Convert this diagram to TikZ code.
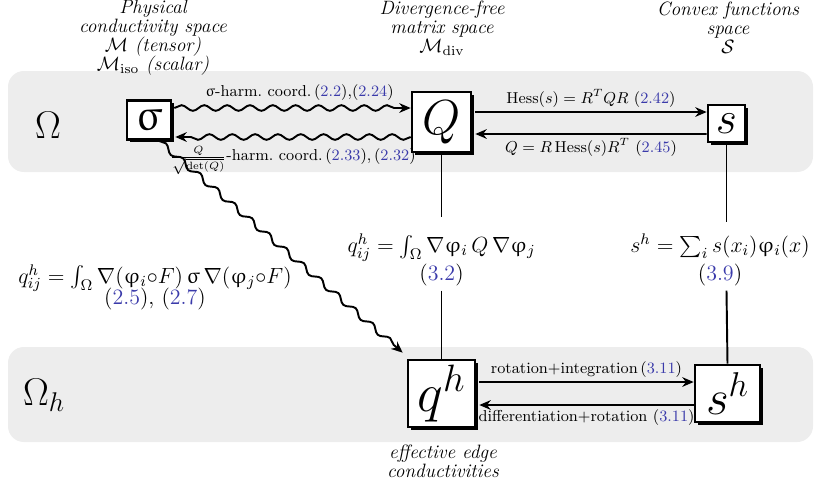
\RequirePackage{fix-cm}
\documentclass[tikz,border=0pt]{standalone}
\usepackage{amsmath}
\usepackage{upgreek}
\usetikzlibrary{arrows.meta, positioning, calc, decorations.pathmorphing, shadows}
\definecolor{cband}{HTML}{EDEDED}
\definecolor{cref}{RGB}{58,58,170}
\newcommand{\eqr}[1]{\textcolor{cref}{#1}}
\newcommand{\headfont}{\fontsize{11}{10.8}\selectfont\itshape\setlength{\lineskiplimit}{-6pt}}
\tikzset{
  every picture/.style={line width=1.1pt},
  band/.style={fill=cband, draw=none, rounded corners=9pt},
  spacebox/.style={draw, line width=1.5pt, fill=white, inner sep=0pt,
    drop shadow={shadow xshift=1.6pt, shadow yshift=-1.6pt, opacity=1, fill=black}},
  head/.style={font=\headfont, align=center},
  lbl/.style={font=\small, inner sep=2pt},
  eqn/.style={font=\fontsize{12.5}{16}\selectfont, align=center, inner sep=2pt},
  arrow/.style={-{Stealth[length=6.5pt, width=5.5pt]}},
  wave/.style={arrow, decorate, decoration={snake, amplitude=1.6pt, segment length=13pt, post length=5pt}},
}
\begin{document}
\begin{tikzpicture}[x=0.02cm, y=-0.02cm]
  \useasboundingbox (0,0) rectangle (818,487);
  % the two grey bands
  \fill[band] (8,71) rectangle (813,172);
  \fill[band] (8,347) rectangle (813,442);
  % column headings
  \node[head] (hphys) at (153,38) {Physical\\conductivity space\\$\mathcal{M}$ (tensor)\\$\mathcal{M}_{\mathrm{iso}}$ (scalar)};
  \node[head] (hdiv) at (442,28) {Divergence-free\\matrix space\\$\mathcal{M}_{\mathrm{div}}$};
  \node[head] (hconv) at (728,28) {Convex functions\\space\\$\mathcal{S}$};
  \node[head] (heff) at (443,461) {effective edge\\conductivities};
  \node[font=\fontsize{22}{24}\selectfont] (om) at (48,125) {$\Omega$};
  \node[font=\fontsize{22}{24}\selectfont] (omh) at (44,395) {$\Omega_h$};
  % boxes
  \node[spacebox, minimum width=0.88cm, minimum height=0.78cm, font=\fontsize{25}{25}\selectfont] (sig) at (149,120) {$\upsigma$};
  \node[spacebox, minimum width=1.18cm, minimum height=1.2cm, font=\fontsize{28}{28}\selectfont] (Q) at (441.5,122) {$Q$};
  \node[spacebox, minimum width=0.74cm, minimum height=0.74cm, font=\fontsize{26}{26}\selectfont] (s) at (726.5,123.5) {$s$};
  \node[spacebox, minimum width=1.34cm, minimum height=1.34cm, font=\fontsize{31}{31}\selectfont] (qh) at (441.5,393.5) {$q^h$};
  \node[spacebox, minimum width=1.3cm, minimum height=1.14cm, font=\fontsize{28}{28}\selectfont] (sh) at (727.5,393.5) {$s^h$};
  % equations on the vertical links
  \node[eqn] (eqQ) at (441.5,260) {$q^h_{ij} = \int_\Omega \nabla\upvarphi_i\, Q\, \nabla\upvarphi_j$\\(\eqr{3.2})};
  \node[eqn] (eqS) at (720,260) {$s^h = \sum_i s(x_i)\upvarphi_i(x)$\\(\eqr{3.9})};
  \node[eqn] (eqL) at (155,287) {$q^h_{ij} = \int_\Omega \nabla(\upvarphi_i{\circ}F)\,\upsigma\,\nabla(\upvarphi_j{\circ}F)$\\[-4pt](\eqr{2.5}), (\eqr{2.7})};
  % top row
  \draw[wave] ($(sig.east)+(2,-12)$) -- ($(Q.west)+(0,-14)$)
    node[pos=0.53, above=1.5pt, lbl] {$\upsigma$-harm.\ coord.\,(\eqr{2.2}),(\eqr{2.24})};
  \draw[wave] ($(Q.west)+(0,15)$) -- ($(sig.east)+(3,17)$)
    node[midway, below=3pt, lbl] {$\tfrac{Q}{\sqrt{\det(Q)}}$-harm.\ coord.\,(\eqr{2.33}),\,(\eqr{2.32})};
  \draw[arrow] ($(Q.east)+(3,-10)$) -- ($(s.west)+(0,-11.5)$)
    node[midway, above, lbl] {Hess$(s) = R^TQR$ (\eqr{2.42})};
  \draw[arrow] ($(s.west)+(0,10.5)$) -- ($(Q.east)+(3,12)$)
    node[midway, below, lbl] {$Q = R\,\mathrm{Hess}(s)R^T$ (\eqr{2.45})};
  % vertical links
  \draw (Q.south) -- ([yshift=7pt]eqQ.north);
  \draw (eqQ.south) -- (qh.north);
  \draw (s.south) -- ([yshift=4pt]eqS.north -| s.south);
  \draw (eqS.south -| s.south) -- (sh.north);
  \draw[wave] (sig.-65) -- ($(qh.north west)+(-4,-6)$);
  % bottom row
  \draw[arrow] ($(qh.east)+(3,-11.5)$) -- ($(sh.west)+(0,-11.5)$)
    node[midway, above, lbl] {rotation+integration\,(\eqr{3.11})};
  \draw[arrow] ($(sh.west)+(0,11.5)$) -- ($(qh.east)+(3,11.5)$)
    node[midway, below, lbl] {differentiation+rotation (\eqr{3.11})};
\end{tikzpicture}
\end{document}
